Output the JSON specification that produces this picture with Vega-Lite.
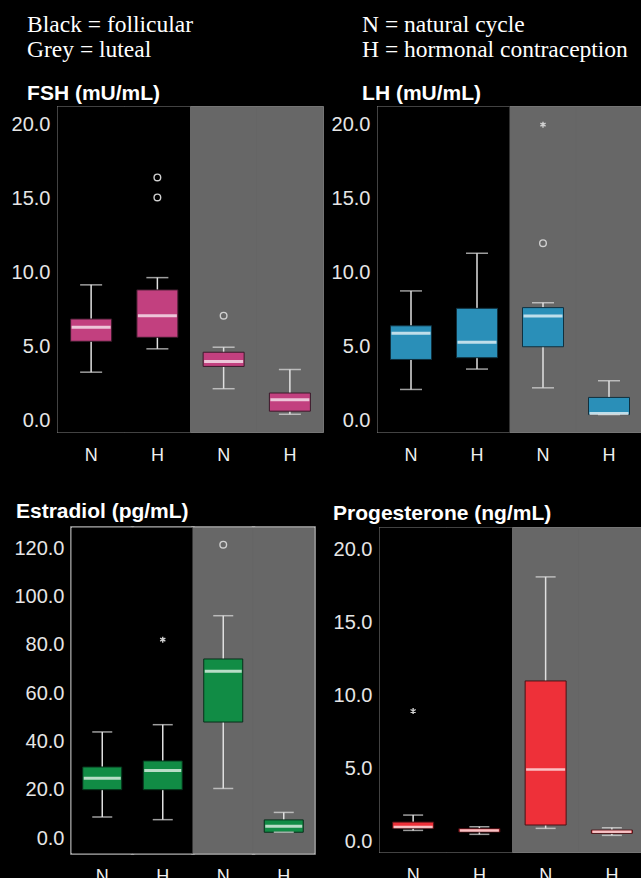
{
  "$schema": "https://vega.github.io/schema/vega-lite/v6.json",
  "background": "#000000",
  "padding": {"left": 10, "top": 12, "right": 0, "bottom": 0},
  "config": {
    "view": {"stroke": "#b0b0b0", "strokeWidth": 1.5},
    "axis": {"domain": false, "ticks": false, "grid": false, "labelColor": "#e6e6e6", "labelFont": "Liberation Sans", "labelFontSize": 20},
    "axisY": {"labelPadding": 8},
    "axisX": {"labelPadding": 14, "labelFontSize": 18, "labelColor": "#f0f0f0", "labelAngle": 0}
  },
  "datasets": {
    "fsh": [
      {"group": "Follicular N", "phase": "Follicular", "lo": 3.25, "q1": 5.34, "med": 6.29, "q3": 6.85, "hi": 9.16},
      {"group": "Follicular H", "phase": "Follicular", "lo": 4.83, "q1": 5.61, "med": 7.07, "q3": 8.82, "hi": 9.65},
      {"group": "Luteal N", "phase": "Luteal", "lo": 2.13, "q1": 3.64, "med": 3.97, "q3": 4.6, "hi": 4.94},
      {"group": "Luteal H", "phase": "Luteal", "lo": 0.4, "q1": 0.61, "med": 1.39, "q3": 1.84, "hi": 3.43}
    ],
    "fsh_out": [
      {"group": "Follicular H", "value": 16.43, "kind": "circle"},
      {"group": "Follicular H", "value": 15.08, "kind": "circle"},
      {"group": "Luteal N", "value": 7.07, "kind": "circle"}
    ],
    "lh": [
      {"group": "Follicular N", "phase": "Follicular", "lo": 2.08, "q1": 4.11, "med": 5.88, "q3": 6.39, "hi": 8.75},
      {"group": "Follicular H", "phase": "Follicular", "lo": 3.46, "q1": 4.23, "med": 5.27, "q3": 7.57, "hi": 11.3},
      {"group": "Luteal N", "phase": "Luteal", "lo": 2.19, "q1": 4.97, "med": 7.05, "q3": 7.62, "hi": 7.95},
      {"group": "Luteal H", "phase": "Luteal", "lo": 0.38, "q1": 0.38, "med": 0.45, "q3": 1.54, "hi": 2.67}
    ],
    "lh_out": [
      {"group": "Luteal N", "value": 20.0, "kind": "star"},
      {"group": "Luteal N", "value": 11.98, "kind": "circle"}
    ],
    "e2": [
      {"group": "Follicular N", "phase": "Follicular", "lo": 8.7, "q1": 20.0, "med": 24.7, "q3": 29.4, "hi": 43.9},
      {"group": "Follicular H", "phase": "Follicular", "lo": 7.6, "q1": 20.0, "med": 27.9, "q3": 31.9, "hi": 46.9},
      {"group": "Luteal N", "phase": "Luteal", "lo": 20.5, "q1": 48.0, "med": 69.0, "q3": 74.1, "hi": 92.0},
      {"group": "Luteal H", "phase": "Luteal", "lo": 2.4, "q1": 2.4, "med": 4.9, "q3": 7.5, "hi": 10.6}
    ],
    "e2_out": [
      {"group": "Follicular H", "value": 82.1, "kind": "star"},
      {"group": "Luteal N", "value": 121.4, "kind": "circle"}
    ],
    "p4": [
      {"group": "Follicular N", "phase": "Follicular", "lo": 0.73, "q1": 0.87, "med": 0.96, "q3": 1.3, "hi": 1.78},
      {"group": "Follicular H", "phase": "Follicular", "lo": 0.46, "q1": 0.62, "med": 0.73, "q3": 0.85, "hi": 0.98},
      {"group": "Luteal N", "phase": "Luteal", "lo": 0.87, "q1": 1.1, "med": 4.91, "q3": 10.97, "hi": 18.1},
      {"group": "Luteal H", "phase": "Luteal", "lo": 0.39, "q1": 0.53, "med": 0.64, "q3": 0.75, "hi": 0.91}
    ],
    "p4_out": [
      {"group": "Follicular N", "value": 8.91, "kind": "star"}
    ]
  },
  "columns": 1,
  "align": "none",
  "spacing": 36,
  "concat": [
    {
      "spacing": 5,
      "hconcat": [
        {
          "width": 265, "height": 325,
          "title": {"text": ["Black = follicular", "Grey = luteal"], "subtitle": "FSH (mU/mL)", "anchor": "start", "frame": "bounds", "dx": 16, "font": "Liberation Serif", "fontSize": 23.5, "fontWeight": "normal", "color": "#ffffff", "lineHeight": 25, "subtitleFont": "Liberation Sans", "subtitleFontSize": 21, "subtitleFontWeight": "bold", "subtitleColor": "#ffffff", "subtitlePadding": 21, "offset": 3},
          "data": {"name": "fsh"},
          "encoding": {"x": {"field": "group", "type": "nominal", "title": null, "scale": {"domain": ["Follicular N", "Follicular H", "Luteal N", "Luteal H"], "paddingInner": 0, "paddingOuter": 0}, "axis": {"labelExpr": "slice(datum.value, -1)"}}},
          "layer": [
            {"mark": {"type": "rect", "strokeWidth": 1}, "encoding": {"color": {"field": "phase", "type": "nominal", "scale": {"domain": ["Follicular", "Luteal"], "range": ["#000000", "#676767"]}, "legend": null}, "stroke": {"field": "phase", "type": "nominal", "scale": {"domain": ["Follicular", "Luteal"], "range": ["#000000", "#676767"]}, "legend": null}}},
            {"mark": {"type": "rule", "color": "#e0e0e0", "strokeWidth": 1.5}, "encoding": {"y": {"field": "lo", "type": "quantitative", "title": null, "scale": {"domain": [-0.8, 21.2], "nice": false, "zero": false}, "axis": {"values": [0, 5, 10, 15, 20], "format": ".1f"}}, "y2": {"field": "hi"}}},
            {"mark": {"type": "bar", "size": 41, "color": "#C2407F", "stroke": "#3a1a2a", "strokeWidth": 1}, "encoding": {"y": {"field": "q1", "type": "quantitative", "title": null}, "y2": {"field": "q3"}}},
            {"mark": {"type": "tick", "color": "#ffffff", "thickness": 3, "size": 39}, "encoding": {"y": {"field": "med", "type": "quantitative", "title": null}}},
            {"mark": {"type": "tick", "color": "#e0e0e0", "thickness": 1.5, "size": 22}, "encoding": {"y": {"field": "lo", "type": "quantitative", "title": null}}},
            {"mark": {"type": "tick", "color": "#e0e0e0", "thickness": 1.5, "size": 22}, "encoding": {"y": {"field": "hi", "type": "quantitative", "title": null}}},
            {"data": {"name": "fsh_out"}, "mark": {"type": "point", "filled": false, "strokeWidth": 1.4, "color": "#d0d0d0", "opacity": 1}, "encoding": {"y": {"field": "value", "type": "quantitative", "title": null}, "shape": {"field": "kind", "type": "nominal", "scale": {"domain": ["circle", "star"], "range": ["circle", "M0,-1L0,1M-0.87,-0.5L0.87,0.5M-0.87,0.5L0.87,-0.5"]}, "legend": null}, "size": {"field": "kind", "type": "nominal", "scale": {"domain": ["circle", "star"], "range": [44, 36]}, "legend": null}}}
          ]
        },
        {
          "width": 264, "height": 325,
          "title": {"text": ["N = natural cycle", "H = hormonal contraception"], "subtitle": "LH (mU/mL)", "anchor": "start", "frame": "bounds", "dx": 31, "font": "Liberation Serif", "fontSize": 23.5, "fontWeight": "normal", "color": "#ffffff", "lineHeight": 25, "subtitleFont": "Liberation Sans", "subtitleFontSize": 21, "subtitleFontWeight": "bold", "subtitleColor": "#ffffff", "subtitlePadding": 21, "offset": 3},
          "data": {"name": "lh"},
          "encoding": {"x": {"field": "group", "type": "nominal", "title": null, "scale": {"domain": ["Follicular N", "Follicular H", "Luteal N", "Luteal H"], "paddingInner": 0, "paddingOuter": 0}, "axis": {"labelExpr": "slice(datum.value, -1)"}}},
          "layer": [
            {"mark": {"type": "rect", "strokeWidth": 1}, "encoding": {"color": {"field": "phase", "type": "nominal", "scale": {"domain": ["Follicular", "Luteal"], "range": ["#000000", "#676767"]}, "legend": null}, "stroke": {"field": "phase", "type": "nominal", "scale": {"domain": ["Follicular", "Luteal"], "range": ["#000000", "#676767"]}, "legend": null}}},
            {"mark": {"type": "rule", "color": "#e0e0e0", "strokeWidth": 1.5}, "encoding": {"y": {"field": "lo", "type": "quantitative", "title": null, "scale": {"domain": [-0.8, 21.2], "nice": false, "zero": false}, "axis": {"values": [0, 5, 10, 15, 20], "format": ".1f"}}, "y2": {"field": "hi"}}},
            {"mark": {"type": "bar", "size": 41, "color": "#2A8FB8", "stroke": "#10303e", "strokeWidth": 1}, "encoding": {"y": {"field": "q1", "type": "quantitative", "title": null}, "y2": {"field": "q3"}}},
            {"mark": {"type": "tick", "color": "#ffffff", "thickness": 3, "size": 39}, "encoding": {"y": {"field": "med", "type": "quantitative", "title": null}}},
            {"mark": {"type": "tick", "color": "#e0e0e0", "thickness": 1.5, "size": 22}, "encoding": {"y": {"field": "lo", "type": "quantitative", "title": null}}},
            {"mark": {"type": "tick", "color": "#e0e0e0", "thickness": 1.5, "size": 22}, "encoding": {"y": {"field": "hi", "type": "quantitative", "title": null}}},
            {"data": {"name": "lh_out"}, "mark": {"type": "point", "filled": false, "strokeWidth": 1.4, "color": "#d0d0d0", "opacity": 1}, "encoding": {"y": {"field": "value", "type": "quantitative", "title": null}, "shape": {"field": "kind", "type": "nominal", "scale": {"domain": ["circle", "star"], "range": ["circle", "M0,-1L0,1M-0.87,-0.5L0.87,0.5M-0.87,0.5L0.87,-0.5"]}, "legend": null}, "size": {"field": "kind", "type": "nominal", "scale": {"domain": ["circle", "star"], "range": [44, 36]}, "legend": null}}}
          ]
        }
      ]
    },
    {
      "spacing": 16,
      "hconcat": [
        {
          "width": 256, "height": 325,
          "view": {"stroke": null},
          "title": {"text": "Estradiol (pg/mL)", "anchor": "start", "frame": "bounds", "dx": 2, "font": "Liberation Sans", "fontSize": 21, "fontWeight": "bold", "color": "#ffffff", "offset": 4},
          "data": {"name": "e2"},
          "encoding": {"x": {"field": "group", "type": "nominal", "title": null, "scale": {"domain": ["Follicular N", "Follicular H", "Luteal N", "Luteal H"], "paddingInner": 0, "paddingOuter": 0.1157, "align": 1}, "axis": {"labelExpr": "slice(datum.value, -1)"}}},
          "layer": [
            {"mark": {"type": "rect", "stroke": "#b0b0b0", "strokeWidth": 3.5}, "encoding": {"color": {"field": "phase", "type": "nominal", "scale": {"domain": ["Follicular", "Luteal"], "range": ["#000000", "#676767"]}, "legend": null}}},
            {"mark": {"type": "rect", "strokeWidth": 1}, "encoding": {"color": {"field": "phase", "type": "nominal", "legend": null}, "stroke": {"field": "phase", "type": "nominal", "scale": {"domain": ["Follicular", "Luteal"], "range": ["#000000", "#676767"]}, "legend": null}}},
            {"mark": {"type": "rule", "color": "#e0e0e0", "strokeWidth": 1.5}, "encoding": {"y": {"field": "lo", "type": "quantitative", "title": null, "scale": {"domain": [-6.2, 128.3], "nice": false, "zero": false}, "axis": {"values": [0, 20, 40, 60, 80, 100, 120], "format": ".1f", "offset": -14}}, "y2": {"field": "hi"}}},
            {"mark": {"type": "bar", "size": 39, "color": "#118C45", "stroke": "#06301a", "strokeWidth": 1}, "encoding": {"y": {"field": "q1", "type": "quantitative", "title": null}, "y2": {"field": "q3"}}},
            {"mark": {"type": "tick", "color": "#ffffff", "thickness": 3, "size": 37}, "encoding": {"y": {"field": "med", "type": "quantitative", "title": null}}},
            {"mark": {"type": "tick", "color": "#e0e0e0", "thickness": 1.5, "size": 20}, "encoding": {"y": {"field": "lo", "type": "quantitative", "title": null}}},
            {"mark": {"type": "tick", "color": "#e0e0e0", "thickness": 1.5, "size": 20}, "encoding": {"y": {"field": "hi", "type": "quantitative", "title": null}}},
            {"data": {"name": "e2_out"}, "mark": {"type": "point", "filled": false, "strokeWidth": 1.4, "color": "#d0d0d0", "opacity": 1}, "encoding": {"y": {"field": "value", "type": "quantitative", "title": null}, "shape": {"field": "kind", "type": "nominal", "scale": {"domain": ["circle", "star"], "range": ["circle", "M0,-1L0,1M-0.87,-0.5L0.87,0.5M-0.87,0.5L0.87,-0.5"]}, "legend": null}, "size": {"field": "kind", "type": "nominal", "scale": {"domain": ["circle", "star"], "range": [44, 36]}, "legend": null}}}
          ]
        },
        {
          "width": 265, "height": 324,
          "title": {"text": "Progesterone (ng/mL)", "anchor": "start", "frame": "bounds", "dx": 0, "font": "Liberation Sans", "fontSize": 21, "fontWeight": "bold", "color": "#ffffff", "offset": 4},
          "data": {"name": "p4"},
          "encoding": {"x": {"field": "group", "type": "nominal", "title": null, "scale": {"domain": ["Follicular N", "Follicular H", "Luteal N", "Luteal H"], "paddingInner": 0, "paddingOuter": 0}, "axis": {"labelExpr": "slice(datum.value, -1)"}}},
          "layer": [
            {"mark": {"type": "rect", "strokeWidth": 1}, "encoding": {"color": {"field": "phase", "type": "nominal", "scale": {"domain": ["Follicular", "Luteal"], "range": ["#000000", "#676767"]}, "legend": null}, "stroke": {"field": "phase", "type": "nominal", "scale": {"domain": ["Follicular", "Luteal"], "range": ["#000000", "#676767"]}, "legend": null}}},
            {"mark": {"type": "rule", "color": "#e0e0e0", "strokeWidth": 1.5}, "encoding": {"y": {"field": "lo", "type": "quantitative", "title": null, "scale": {"domain": [-0.75, 21.45], "nice": false, "zero": false}, "axis": {"values": [0, 5, 10, 15, 20], "format": ".1f"}}, "y2": {"field": "hi"}}},
            {"mark": {"type": "bar", "size": 41, "color": "#EE3039", "stroke": "#4a1014", "strokeWidth": 1}, "encoding": {"y": {"field": "q1", "type": "quantitative", "title": null}, "y2": {"field": "q3"}}},
            {"mark": {"type": "tick", "color": "#ffffff", "thickness": 2.5, "size": 39}, "encoding": {"y": {"field": "med", "type": "quantitative", "title": null}}},
            {"mark": {"type": "tick", "color": "#e0e0e0", "thickness": 1.5, "size": 20}, "encoding": {"y": {"field": "lo", "type": "quantitative", "title": null}}},
            {"mark": {"type": "tick", "color": "#e0e0e0", "thickness": 1.5, "size": 20}, "encoding": {"y": {"field": "hi", "type": "quantitative", "title": null}}},
            {"data": {"name": "p4_out"}, "mark": {"type": "point", "filled": false, "strokeWidth": 1.4, "color": "#d0d0d0", "opacity": 1}, "encoding": {"y": {"field": "value", "type": "quantitative", "title": null}, "shape": {"field": "kind", "type": "nominal", "scale": {"domain": ["circle", "star"], "range": ["circle", "M0,-1L0,1M-0.87,-0.5L0.87,0.5M-0.87,0.5L0.87,-0.5"]}, "legend": null}, "size": {"field": "kind", "type": "nominal", "scale": {"domain": ["circle", "star"], "range": [44, 36]}, "legend": null}}}
          ]
        }
      ]
    }
  ]
}
